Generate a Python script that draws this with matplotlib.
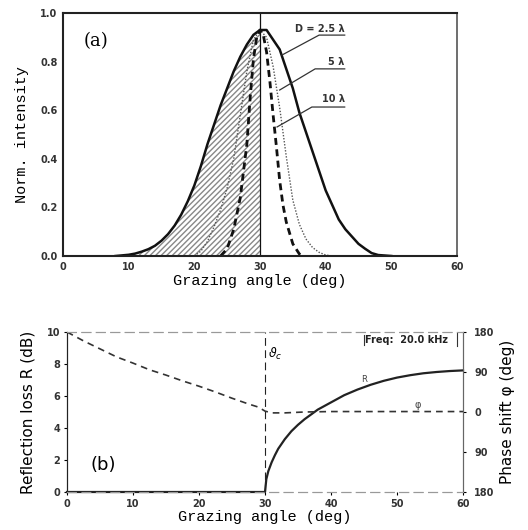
import matplotlib
matplotlib.use("Agg")
import matplotlib.pyplot as plt
import numpy as np

# ---- panel (a): normalized intensity vs grazing angle ----
x_d25 = [8, 10, 11, 12, 13, 14, 15, 16, 17, 18, 19, 20, 21, 22, 23, 24, 25, 26, 27, 28, 29, 30,
         31, 32, 33, 34, 35, 36, 37, 38, 39, 40, 41, 42, 43, 44, 45, 46, 47, 48, 50]
y_d25 = [0.0, 0.005, 0.01, 0.018, 0.028, 0.042, 0.063, 0.09, 0.125, 0.17, 0.225, 0.29, 0.37,
         0.46, 0.54, 0.62, 0.69, 0.76, 0.82, 0.87, 0.91, 0.93,
         0.93, 0.89, 0.85, 0.77, 0.69, 0.59, 0.51, 0.43, 0.35, 0.27, 0.21, 0.15, 0.11, 0.08,
         0.05, 0.03, 0.012, 0.004, 0.0]

x_d5 = [20, 21, 22, 23, 24, 25, 26, 27, 28, 29, 30,
        31, 32, 33, 34, 35, 36, 37, 38, 39, 40, 41]
y_d5 = [0.0, 0.02, 0.06, 0.12, 0.19, 0.28, 0.40, 0.58, 0.76, 0.89, 0.93,
        0.90, 0.78, 0.61, 0.41, 0.23, 0.13, 0.07, 0.035, 0.015, 0.004, 0.0]

x_d10 = [24, 25, 26, 27, 28, 28.5, 29, 29.5, 30,
         30.5, 31, 31.5, 32, 32.5, 33, 33.5, 34, 35, 36, 36.5]
y_d10 = [0.0, 0.03, 0.11, 0.24, 0.46, 0.65, 0.81, 0.90, 0.93,
         0.91, 0.84, 0.72, 0.58, 0.45, 0.31, 0.21, 0.14, 0.05, 0.008, 0.0]

x_ticks = [0, 10, 20, 30, 40, 50, 60]
ya_ticks = [0.0, 0.2, 0.4, 0.6, 0.8, 1.0]

# ---- panel (b): reflection loss and phase shift ----
phi_x = [0, 2.5, 5, 7.5, 10, 12.5, 15, 17.5, 20, 22.5, 25, 27.5, 29, 30,
         31, 33, 36, 40, 50, 60]
phi_y = [180, 160, 142, 124, 110, 95, 83, 70, 58, 45, 31, 18, 11, 2,
         -2, -2, 0, 1, 1, 1]

r_x = [0, 30, 30.2, 30.5, 31, 31.5, 32, 33, 34, 35, 36, 38, 40, 42, 44, 46,
       48, 50, 52, 54, 56, 58, 60]
r_y = [0, 0, 0.8, 1.3, 1.85, 2.3, 2.7, 3.3, 3.8, 4.2, 4.55, 5.15, 5.6, 6.05,
       6.4, 6.7, 6.95, 7.15, 7.3, 7.42, 7.5, 7.56, 7.6]

yb_ticks = [0, 2, 4, 6, 8, 10]
phi_ticks = [-180, -90, 0, 90, 180]
phi_labels = ["180", "90", "0", "90", "180"]

theta_c = 30

mono = "Liberation Mono"
tick_kw = dict(fontsize=7, fontweight="bold", color="#333333")

fig = plt.figure(figsize=(5.28, 5.30), dpi=100)

#  top panel
ax1 = fig.add_axes([0.1193, 0.5170, 0.7462, 0.4585])
x = np.array(x_d25)
y = np.array(y_d25)
left = x <= theta_c
ax1.fill_between(x[left], 0, y[left], facecolor="none", edgecolor="#888888",
                 hatch="//////", linewidth=0)
ax1.plot(x_d25, y_d25, color="#111111", lw=1.8)
ax1.plot(x_d5, y_d5, color="#555555", lw=1.0, ls=(0, (1, 1.2)))
ax1.plot(x_d10, y_d10, color="#111111", lw=2.0, ls=(0, (2.5, 1.6)))
ax1.axvline(theta_c, color="#111111", lw=0.9)

ax1.set_xlim(0, 60)
ax1.set_ylim(0, 1.0)
ax1.set_xticks(x_ticks)
ax1.set_xticklabels([str(t) for t in x_ticks], **tick_kw)
ax1.set_yticks(ya_ticks)
ax1.set_yticklabels(["%.1f" % t for t in ya_ticks], **tick_kw)
ax1.tick_params(length=0, pad=4)
ax1.set_xlabel("Grazing angle (deg)", family=mono, fontsize=11, labelpad=2)
ax1.set_ylabel("Norm. intensity", family=mono, fontsize=11, labelpad=8)
for s in ["top", "left", "bottom"]:
    ax1.spines[s].set_linewidth(1.5)
    ax1.spines[s].set_color("#222222")
ax1.spines["right"].set_color("#555555")
ax1.spines["right"].set_linewidth(1.2)

ax1.text(5.0, 0.885, "(a)", family="DejaVu Serif", fontsize=13, ha="center", va="center")

# curve labels with leader lines
labels = [("D = 2.5 \u03bb", 0.934, 39.0, 0.909, 33.35, 0.827),
          ("5 \u03bb", 0.798, 38.4, 0.770, 33.0, 0.683),
          ("10 \u03bb", 0.646, 37.9, 0.613, 32.6, 0.531)]
for txt, ty, ux, uy, lx, ly in labels:
    ax1.text(42.9, ty, txt, fontsize=7, fontweight="bold", color="#333333",
             ha="right", va="center")
    ax1.plot([lx, ux, 42.9], [ly, uy, uy], color="#333333", lw=0.9)

#  bottom panel
ax2 = fig.add_axes([0.1269, 0.0717, 0.75, 0.3019])
ax3 = ax2.twinx()
ax2.plot(r_x, r_y, color="#222222", lw=1.6, clip_on=False, zorder=3)
ax3.plot(phi_x, phi_y, color="#333333", lw=1.2, ls=(0, (4, 3)))
ax2.axvline(theta_c, color="#222222", lw=0.8, ls=(0, (7, 4)))

ax2.set_xlim(0, 60)
ax2.set_ylim(0, 10)
ax3.set_ylim(-180, 180)
ax2.set_xticks(x_ticks)
ax2.set_xticklabels([str(t) for t in x_ticks], **tick_kw)
ax2.set_yticks(yb_ticks)
ax2.set_yticklabels([str(t) for t in yb_ticks], **tick_kw)
ax3.set_yticks(phi_ticks)
ax3.set_yticklabels(phi_labels, **tick_kw)
ax2.tick_params(length=2, pad=3)
ax3.tick_params(length=2, pad=6)
ax2.set_xlabel("Grazing angle (deg)", family=mono, fontsize=11, labelpad=1)
ax2.set_ylabel("Reflection loss R (dB)", fontsize=11, labelpad=8)
ax3.set_ylabel("Phase shift \u03c6 (deg)", fontsize=11, labelpad=4)

for a in [ax2, ax3]:
    a.spines["top"].set_linestyle((0, (8, 5)))
    a.spines["top"].set_color("#999999")
    a.spines["bottom"].set_linestyle((0, (8, 5)))
    a.spines["bottom"].set_color("#999999")
    a.spines["right"].set_color("#666666")
    a.spines["left"].set_color("#222222")

ax2.text(30.4, 8.6, r"$\vartheta_c$", fontsize=9, ha="left", va="center")
ax2.text(45.2, 9.5, "Freq:  20.0 kHz", fontsize=7, fontweight="bold",
         color="#222222", ha="left", va="center")
ax2.plot([45.0, 45.0], [9.2, 9.8], color="#333333", lw=0.8)
ax2.plot([59.1, 59.1], [9.1, 10.0], color="#333333", lw=0.8)
ax2.text(45.0, 7.06, "R", fontsize=6, color="#444444", ha="center", va="center")
ax2.text(53.2, 5.45, "\u03c6", fontsize=7, color="#444444", ha="center", va="center")
ax2.text(5.45, 1.68, "(b)", fontsize=13, ha="center", va="center")

fig.savefig("out.png", dpi=100)
